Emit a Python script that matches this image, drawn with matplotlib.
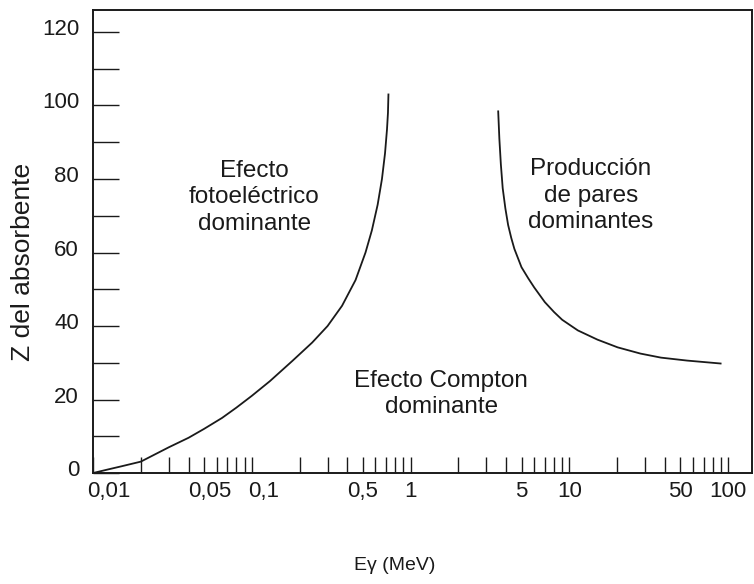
import matplotlib
matplotlib.use("Agg")
import matplotlib.pyplot as plt
import matplotlib.transforms as mtransforms
from matplotlib import font_manager

# curve (energy in MeV, Z)
foto_e = [0.01, 0.0125, 0.015, 0.02, 0.03, 0.04, 0.05, 0.065, 0.08, 0.1, 0.13,
          0.18, 0.24, 0.3, 0.37, 0.45, 0.52, 0.57, 0.62, 0.66, 0.69, 0.71, 0.72, 0.725]
foto_z = [0, 1, 1.8, 3.1, 7, 9.6, 12, 15, 17.8, 21, 25,
          30.5, 35.5, 40, 45.5, 52.5, 60, 66, 73, 80, 87, 93.5, 98, 103]

pares_e = [3.56, 3.62, 3.7, 3.8, 3.95, 4.11, 4.3, 4.5, 4.99, 5.5, 6.0, 7.0, 8.0,
           9.0, 11.3, 15, 20.1, 28, 37.7, 55, 89.5]
pares_z = [98.4, 91, 84, 77.5, 72, 67.5, 64, 61, 56, 53, 50.5, 46.5, 43.8,
           41.7, 38.8, 36.3, 34.2, 32.5, 31.4, 30.6, 29.8]

xtick_vals = [m * 10.0 ** d for d in range(-2, 2) for m in range(1, 10)] + [100]
xlabel_vals = [0.01, 0.05, 0.1, 0.5, 1, 5, 10, 50, 100]
xlabel_txt = ["0,01", "0,05", "0,1", "0,5", "1", "5", "10", "50", "100"]
ytick_vals = list(range(0, 121, 10))
ylabel_vals = list(range(0, 121, 20))

names = {f.name for f in font_manager.fontManager.ttflist}
fam = "Liberation Sans Narrow" if "Liberation Sans Narrow" in names else "Liberation Sans"
plt.rcParams["font.family"] = [fam, "DejaVu Sans"]

ink = "#1a1a1a"
fig = plt.figure(figsize=(7.54, 5.84), dpi=100)
ax = fig.add_axes([0.1233, 0.190, 0.874, 0.793])

ax.plot(foto_e, foto_z, color=ink, lw=1.3)
ax.plot(pares_e, pares_z, color=ink, lw=1.3)

ax.set_xscale("log")
ax.set_xlim(0.01, 141)
ax.set_ylim(0, 126)

ax.set_xticks(xtick_vals)
ax.set_xticklabels([xlabel_txt[xlabel_vals.index(v)] if v in xlabel_vals else ""
                    for v in xtick_vals])
ax.xaxis.set_minor_locator(matplotlib.ticker.NullLocator())
ax.set_yticks(ytick_vals)
ax.set_yticklabels([str(v) if v in ylabel_vals else "" for v in ytick_vals])

ax.tick_params(axis="x", direction="in", length=11.5, width=1.0, color=ink,
               pad=6, labelsize=16, labelcolor=ink)
ax.tick_params(axis="y", direction="in", length=18.5, width=1.0, color=ink,
               pad=10, labelsize=16, labelcolor=ink)
for s in ax.spines.values():
    s.set_linewidth(1.4)
    s.set_color(ink)

# the first x labels sit a bit right of their ticks in the original
shift = {"0,01": 16, "0,05": 6, "0,1": 12}
for lab in ax.get_xticklabels():
    dx = shift.get(lab.get_text(), 0)
    if dx:
        lab.set_transform(lab.get_transform() +
                          mtransforms.ScaledTranslation(dx / 100, 0, fig.dpi_scale_trans))
for lab in ax.get_yticklabels():
    lab.set_transform(lab.get_transform() +
                      mtransforms.ScaledTranslation(0, 5 / 100, fig.dpi_scale_trans))

ax.text(0.104, 75, "Efecto\nfotoeléctrico\ndominante", ha="center", va="center",
        fontsize=17.5, color=ink, linespacing=1.25)
ax.text(13.6, 75.5, "Producción\nde pares\ndominantes", ha="center", va="center",
        fontsize=17.5, color=ink, linespacing=1.25)
ax.text(1.56, 21.5, "Efecto Compton\ndominante", ha="center", va="center",
        fontsize=17.5, color=ink, linespacing=1.25)

fig.text(395 / 754, 1 - 565 / 584, "Eγ (MeV)", ha="center", va="center",
         fontsize=14, color=ink)
fig.text(23 / 754, 1 - 262 / 584, "Z del absorbente", ha="center", va="center",
         rotation=90, fontsize=19, color=ink)

fig.savefig("out.png", dpi=100)
